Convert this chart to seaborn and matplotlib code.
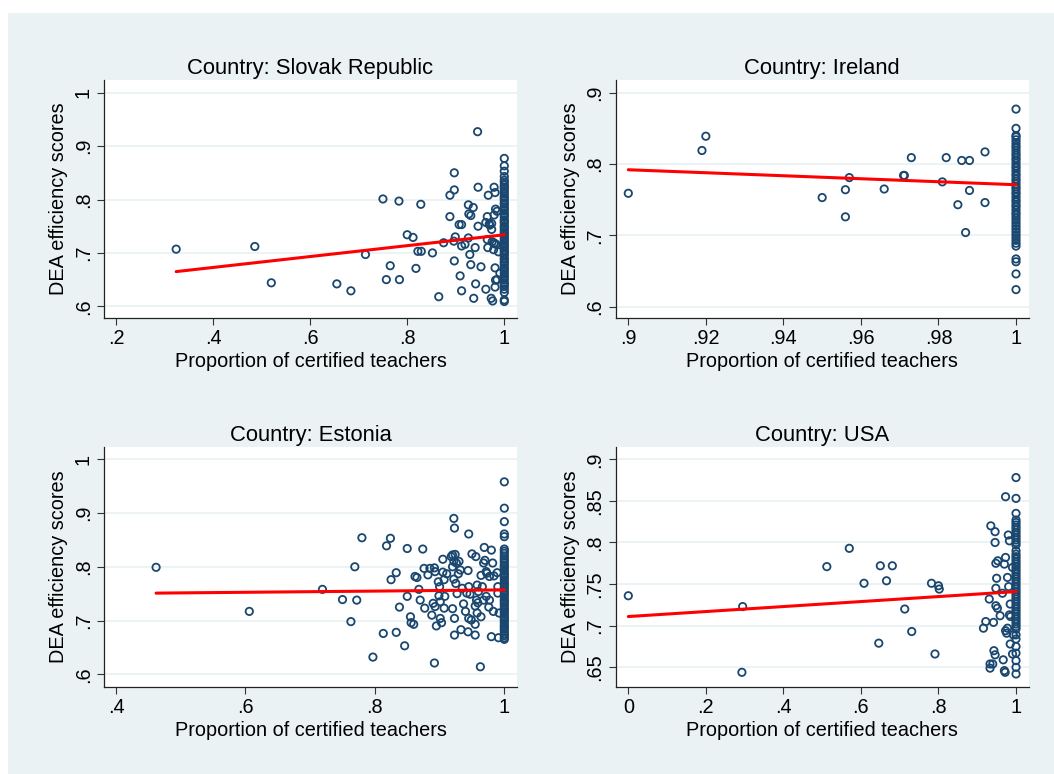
import matplotlib
matplotlib.use('Agg')
import matplotlib.pyplot as plt
import seaborn as sns
from matplotlib.patches import Rectangle

sns.set_theme(style='white')
plt.rcParams['font.family'] = ['Liberation Sans', 'DejaVu Sans']

# ---------------- Data ----------------
titles = ["Country: Slovak Republic", "Country: Ireland", "Country: Estonia", "Country: USA"]
x_label = "Proportion of certified teachers"
y_label = "DEA efficiency scores"

# Slovak Republic
sk_x = [0.324, 0.486, 0.520, 0.655, 0.684, 0.714, 0.750, 0.783, 0.828, 0.765,
        0.757, 0.784, 0.800, 0.812, 0.818, 0.822, 0.829, 0.852, 0.865, 0.875,
        0.888, 0.888, 0.897, 0.897, 0.897, 0.899, 0.896, 0.907, 0.912, 0.909,
        0.912, 0.912, 0.919, 0.926, 0.927, 0.931, 0.926, 0.929, 0.931, 0.936,
        0.937, 0.940, 0.941, 0.945, 0.946, 0.946, 0.952, 0.962, 0.965, 0.962,
        0.969, 0.967, 0.965, 0.966, 0.970, 0.974, 0.974, 0.975, 0.979, 0.978,
        0.973, 0.976, 0.979, 0.981, 0.982, 0.985, 0.979, 0.980, 0.983, 0.981,
        0.982, 0.985, 0.981, 0.988, 0.991]
sk_y = [0.707, 0.712, 0.644, 0.642, 0.629, 0.697, 0.801, 0.797, 0.791, 0.676,
        0.650, 0.650, 0.734, 0.729, 0.671, 0.703, 0.703, 0.700, 0.618, 0.719,
        0.808, 0.768, 0.850, 0.818, 0.685, 0.730, 0.722, 0.753, 0.753, 0.657,
        0.713, 0.629, 0.716, 0.790, 0.773, 0.770, 0.728, 0.697, 0.678, 0.785,
        0.615, 0.710, 0.642, 0.927, 0.823, 0.750, 0.674, 0.632, 0.768, 0.757,
        0.754, 0.808, 0.725, 0.710, 0.752, 0.755, 0.744, 0.721, 0.718, 0.706,
        0.615, 0.610, 0.823, 0.813, 0.782, 0.778, 0.771, 0.718, 0.716, 0.672,
        0.649, 0.650, 0.636, 0.702, 0.662]
sk_full = [0.877, 0.863, 0.853, 0.843, 0.836, 0.832, 0.827, 0.823, 0.820, 0.815,
           0.811, 0.806, 0.803, 0.799, 0.794, 0.791, 0.786, 0.783, 0.779, 0.774,
           0.771, 0.767, 0.762, 0.759, 0.756, 0.751, 0.748, 0.744, 0.740, 0.737,
           0.733, 0.729, 0.725, 0.722, 0.718, 0.714, 0.711, 0.706, 0.703, 0.699,
           0.696, 0.691, 0.688, 0.684, 0.681, 0.677, 0.672, 0.669, 0.665, 0.661,
           0.657, 0.653, 0.649, 0.644, 0.641, 0.637, 0.632, 0.626, 0.612, 0.609]
sk_fit_x = [0.324, 1.0]
sk_fit_y = [0.665, 0.734]

# Ireland
ie_x = [0.900, 0.919, 0.920, 0.950, 0.956, 0.956, 0.957, 0.966, 0.971, 0.9712,
        0.973, 0.981, 0.982, 0.985, 0.986, 0.987, 0.988, 0.988, 0.992, 0.992]
ie_y = [0.759, 0.819, 0.839, 0.753, 0.764, 0.726, 0.781, 0.765, 0.784, 0.784,
        0.809, 0.775, 0.809, 0.743, 0.805, 0.704, 0.805, 0.763, 0.817, 0.746]
ie_full = [0.877, 0.850, 0.840, 0.838, 0.834, 0.830, 0.826, 0.823, 0.819, 0.815,
           0.812, 0.808, 0.805, 0.801, 0.797, 0.794, 0.790, 0.786, 0.783, 0.779,
           0.776, 0.772, 0.768, 0.765, 0.761, 0.758, 0.754, 0.750, 0.747, 0.743,
           0.740, 0.736, 0.732, 0.729, 0.725, 0.721, 0.717, 0.713, 0.709, 0.705,
           0.701, 0.697, 0.693, 0.689, 0.685, 0.667, 0.663, 0.646, 0.624]
ie_fit_x = [0.9, 1.0]
ie_fit_y = [0.792, 0.771]

# Estonia
ee_x = [0.462, 0.606, 0.719, 0.750, 0.769, 0.772, 0.763, 0.780, 0.797, 0.813,
        0.818, 0.824, 0.825, 0.833, 0.833, 0.838, 0.846, 0.850, 0.850, 0.855,
        0.856, 0.860, 0.862, 0.865, 0.868, 0.870, 0.874, 0.876, 0.877, 0.882,
        0.885, 0.888, 0.892, 0.893, 0.892, 0.890, 0.893, 0.895, 0.898, 0.900,
        0.899, 0.901, 0.901, 0.903, 0.905, 0.905, 0.907, 0.908, 0.907, 0.911,
        0.918, 0.920, 0.924, 0.920, 0.922, 0.926, 0.930, 0.922, 0.923, 0.922,
        0.925, 0.920, 0.923, 0.923, 0.927, 0.929, 0.932, 0.933, 0.935, 0.937,
        0.940, 0.944, 0.944, 0.945, 0.945, 0.942, 0.947, 0.945, 0.949, 0.950,
        0.955, 0.957, 0.959, 0.958, 0.955, 0.955, 0.956, 0.958, 0.960, 0.963,
        0.964, 0.966, 0.968, 0.964, 0.968, 0.970, 0.969, 0.972, 0.973, 0.977,
        0.972, 0.976, 0.977, 0.980, 0.980, 0.991, 0.982, 0.983, 0.984, 0.989,
        0.990, 0.990, 0.992]
ee_y = [0.799, 0.717, 0.758, 0.739, 0.800, 0.738, 0.698, 0.854, 0.632, 0.676,
        0.839, 0.853, 0.776, 0.789, 0.678, 0.725, 0.653, 0.745, 0.834, 0.707,
        0.696, 0.693, 0.782, 0.780, 0.758, 0.738, 0.833, 0.797, 0.723, 0.785,
        0.797, 0.710, 0.798, 0.791, 0.621, 0.732, 0.726, 0.690, 0.772, 0.763,
        0.746, 0.735, 0.704, 0.696, 0.814, 0.790, 0.776, 0.745, 0.723, 0.787,
        0.819, 0.822, 0.823, 0.800, 0.810, 0.807, 0.810, 0.890, 0.872, 0.777,
        0.769, 0.722, 0.704, 0.673, 0.750, 0.787, 0.794, 0.683, 0.760, 0.731,
        0.717, 0.679, 0.793, 0.861, 0.763, 0.751, 0.749, 0.704, 0.701, 0.824,
        0.727, 0.738, 0.733, 0.714, 0.693, 0.673, 0.819, 0.766, 0.754, 0.614,
        0.784, 0.763, 0.738, 0.707, 0.807, 0.812, 0.836, 0.791, 0.788, 0.782,
        0.745, 0.725, 0.738, 0.831, 0.670, 0.668, 0.807, 0.717, 0.783, 0.789,
        0.763, 0.751, 0.714]
ee_full = [0.958, 0.909, 0.884, 0.861, 0.856, 0.833, 0.829, 0.825, 0.820, 0.816,
           0.812, 0.808, 0.803, 0.800, 0.796, 0.792, 0.787, 0.784, 0.780, 0.776,
           0.771, 0.768, 0.764, 0.760, 0.755, 0.752, 0.748, 0.744, 0.739, 0.736,
           0.732, 0.728, 0.723, 0.720, 0.716, 0.712, 0.707, 0.704, 0.700, 0.696,
           0.691, 0.688, 0.684, 0.680, 0.675, 0.672, 0.668, 0.665]
ee_fit_x = [0.462, 1.0]
ee_fit_y = [0.751, 0.757]

# USA
us_x = [0.000, 0.295, 0.293, 0.512, 0.570, 0.608, 0.646, 0.650, 0.666, 0.681,
        0.713, 0.731, 0.782, 0.791, 0.800, 0.802, 0.916, 0.922, 0.931, 0.933,
        0.933, 0.940, 0.935, 0.942, 0.946, 0.946, 0.943, 0.946, 0.948, 0.953,
        0.950, 0.948, 0.948, 0.952, 0.959, 0.965, 0.967, 0.970, 0.972, 0.970,
        0.973, 0.973, 0.973, 0.978, 0.976, 0.980, 0.983, 0.978, 0.981, 0.983,
        0.986, 0.985, 0.985, 0.991, 0.993, 0.991]
us_y = [0.736, 0.723, 0.644, 0.771, 0.793, 0.751, 0.679, 0.772, 0.754, 0.772,
        0.720, 0.693, 0.751, 0.666, 0.748, 0.744, 0.697, 0.705, 0.732, 0.654,
        0.649, 0.654, 0.820, 0.704, 0.813, 0.800, 0.670, 0.665, 0.775, 0.778,
        0.757, 0.745, 0.724, 0.721, 0.712, 0.739, 0.659, 0.646, 0.644, 0.774,
        0.782, 0.855, 0.694, 0.697, 0.691, 0.809, 0.802, 0.758, 0.747, 0.713,
        0.711, 0.726, 0.678, 0.770, 0.689, 0.666]
us_full = [0.878, 0.853, 0.835, 0.827, 0.824, 0.821, 0.818, 0.815, 0.812, 0.809,
           0.806, 0.803, 0.800, 0.797, 0.790, 0.786, 0.783, 0.780, 0.777, 0.774,
           0.771, 0.768, 0.765, 0.762, 0.759, 0.756, 0.753, 0.750, 0.747, 0.744,
           0.741, 0.738, 0.735, 0.732, 0.729, 0.726, 0.723, 0.720, 0.717, 0.714,
           0.711, 0.708, 0.705, 0.702, 0.699, 0.696, 0.689, 0.684, 0.675, 0.667,
           0.658, 0.650, 0.642]
us_fit_x = [0.0, 1.0]
us_fit_y = [0.711, 0.741]

# Ticks
sk_xticks = [0.2, 0.4, 0.6, 0.8, 1.0]; sk_xlabels = [".2", ".4", ".6", ".8", "1"]
sk_yticks = [0.6, 0.7, 0.8, 0.9, 1.0]; sk_ylabels = [".6", ".7", ".8", ".9", "1"]
ie_xticks = [0.90, 0.92, 0.94, 0.96, 0.98, 1.0]; ie_xlabels = [".9", ".92", ".94", ".96", ".98", "1"]
ie_yticks = [0.6, 0.7, 0.8, 0.9]; ie_ylabels = [".6", ".7", ".8", ".9"]
ee_xticks = [0.4, 0.6, 0.8, 1.0]; ee_xlabels = [".4", ".6", ".8", "1"]
ee_yticks = [0.6, 0.7, 0.8, 0.9, 1.0]; ee_ylabels = [".6", ".7", ".8", ".9", "1"]
us_xticks = [0.0, 0.2, 0.4, 0.6, 0.8, 1.0]; us_xlabels = ["0", ".2", ".4", ".6", ".8", "1"]
us_yticks = [0.65, 0.70, 0.75, 0.80, 0.85, 0.90]; us_ylabels = [".65", ".7", ".75", ".8", ".85", ".9"]

# ---------------- Styling / layout ----------------
W, H = 1054, 774
NAVY = '#1A476F'
BG = '#EAF2F3'

panels = [
    dict(title=titles[0], x=sk_x, y=sk_y, full=sk_full, fx=sk_fit_x, fy=sk_fit_y,
         xt=sk_xticks, xl=sk_xlabels, yt=sk_yticks, yl=sk_ylabels,
         xlim=(0.1753, 1.0262), ylim=(0.5781, 1.0238), box=(104, 80, 517, 318)),
    dict(title=titles[1], x=ie_x, y=ie_y, full=ie_full, fx=ie_fit_x, fy=ie_fit_y,
         xt=ie_xticks, xl=ie_xlabels, yt=ie_yticks, yl=ie_ylabels,
         xlim=(0.89675, 1.00322), ylim=(0.5842, 0.9178), box=(615.7, 80, 1028.5, 318)),
    dict(title=titles[2], x=ee_x, y=ee_y, full=ee_full, fx=ee_fit_x, fy=ee_fit_y,
         xt=ee_xticks, xl=ee_xlabels, yt=ee_yticks, yl=ee_ylabels,
         xlim=(0.3815, 1.0196), ylim=(0.5769, 1.0234), box=(104, 446.7, 517, 686.7)),
    dict(title=titles[3], x=us_x, y=us_y, full=us_full, fx=us_fit_x, fy=us_fit_y,
         xt=us_xticks, xl=us_xlabels, yt=us_yticks, yl=us_ylabels,
         xlim=(-0.0325, 1.0322), ylim=(0.6267, 0.9151), box=(615.7, 446.7, 1028.5, 686.7)),
]

fig = plt.figure(figsize=(W / 100, H / 100), dpi=100)
fig.patch.set_facecolor('white')
fig.patches.append(Rectangle((8 / W, 0), 1 - 8 / W, 1 - 13 / H, transform=fig.transFigure,
                             facecolor=BG, edgecolor='none', zorder=-10))

for p in panels:
    x0, y0, x1, y1 = p['box']
    ax = fig.add_axes([x0 / W, 1 - y1 / H, (x1 - x0) / W, (y1 - y0) / H])
    ax.set_facecolor('white')
    xs = list(p['x']) + [1.0] * len(p['full'])
    ys = list(p['y']) + list(p['full'])
    sns.scatterplot(x=xs, y=ys, ax=ax, marker='o', s=28, facecolor='none',
                    edgecolor=NAVY, linewidth=1.3, zorder=3)
    sns.lineplot(x=p['fx'], y=p['fy'], ax=ax, color='#FF0000', linewidth=2.2, zorder=4)
    ax.set_xlim(*p['xlim'])
    ax.set_ylim(*p['ylim'])
    ax.set_xticks(p['xt'])
    ax.set_xticklabels(p['xl'])
    ax.set_yticks(p['yt'])
    ax.set_yticklabels(p['yl'])
    ax.grid(axis='y', color=BG, linewidth=1.3, zorder=0)
    ax.grid(axis='x', visible=False)
    ax.set_axisbelow(True)
    for s in ['top', 'right']:
        ax.spines[s].set_visible(False)
    for s in ['left', 'bottom']:
        ax.spines[s].set_color('#222222')
        ax.spines[s].set_linewidth(0.9)
    ax.tick_params(axis='both', which='major', bottom=True, left=True, direction='out',
                   length=5, width=0.8, color='#333333', labelsize=14.3, pad=3,
                   labelcolor='black')
    for lab in ax.get_yticklabels():
        lab.set_rotation(90)
        lab.set_va('center')
    ax.set_title(p['title'], fontsize=15.8, pad=4, color='black')
    ax.set_xlabel(x_label, fontsize=14.3, labelpad=3, color='black')
    ax.set_ylabel(y_label, fontsize=14.3, labelpad=4, color='black')

fig.savefig('out.png', dpi=100, facecolor=fig.get_facecolor())
